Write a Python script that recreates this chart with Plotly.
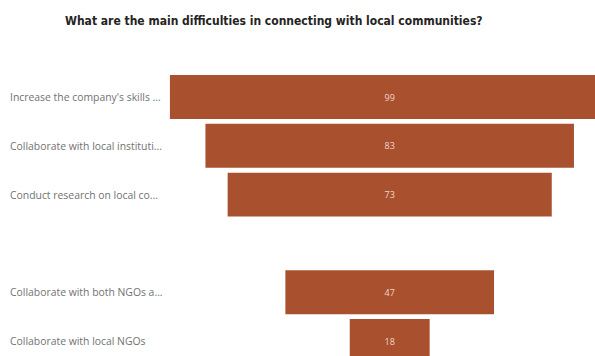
import plotly.graph_objects as go

# Survey answers, top to bottom (one row is left blank in the layout)
categories = [
    "Increase the company's skills ...",
    "Collaborate with local instituti...",
    "Conduct research on local co...",
    " ",
    "Collaborate with both NGOs a...",
    "Collaborate with local NGOs",
]
counts = [99, 83, 73, None, 47, 18]

title_text = "What are the main difficulties in connecting with local communities?"

BAR_COLOR = "#a9502f"
W, H = 595, 356

fig = go.Figure(
    go.Funnel(
        y=categories,
        x=counts,
        marker=dict(color=BAR_COLOR),
        connector=dict(visible=False),
        textinfo="value",
        textposition="inside",
        insidetextanchor="middle",
        textfont=dict(family="Open Sans", size=9, color="#f2d5c8"),
        cliponaxis=True,
    )
)

# Category labels, left-aligned at the left edge
for cat in categories:
    if cat.strip():
        fig.add_annotation(
            x=8 / W, xref="paper", xanchor="left",
            y=cat, yref="y", yanchor="middle",
            text=cat, showarrow=False,
            font=dict(family="Open Sans", size=10.4, color="#727272"),
        )

pitch = 48.8
top_row_px = 97.0
plot_top = 74.0
plot_h = H - plot_top

fig.add_annotation(
    x=274 / W, xref="paper", xanchor="center",
    y=(H - 21) / plot_h, yref="paper", yanchor="middle",
    text=f"<b>{title_text}</b>", showarrow=False,
    font=dict(family="DejaVu Sans Condensed", size=12, color="#252423"),
)

px_per_unit = 4.44
center_px = 389.7
x_min = -center_px / px_per_unit
x_max = (W - center_px) / px_per_unit

y_top = -(top_row_px - plot_top) / pitch
y_bottom = (H - top_row_px) / pitch

fig.update_layout(
    width=W, height=H,
    margin=dict(l=0, r=0, t=plot_top, b=0),
    paper_bgcolor="white", plot_bgcolor="white",
    funnelgap=0.1,
    showlegend=False,
    xaxis=dict(range=[x_min, x_max], visible=False, fixedrange=True),
    yaxis=dict(range=[y_bottom, y_top], showticklabels=False, showgrid=False,
               zeroline=False, fixedrange=True),
)

fig.write_html("out.html", config={"displayModeBar": False})
